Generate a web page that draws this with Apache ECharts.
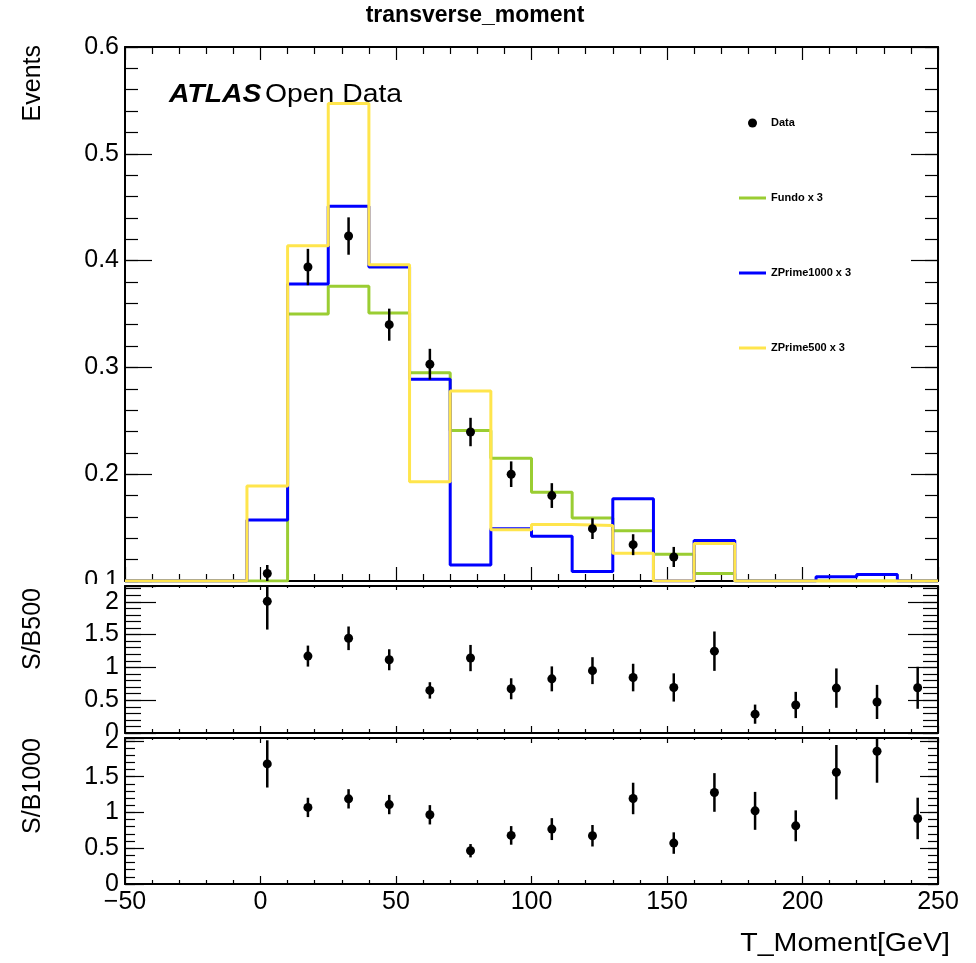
<!DOCTYPE html>
<html>
<head>
<meta charset="utf-8">
<title>transverse_moment</title>
<script src="https://cdn.jsdelivr.net/npm/echarts@6/dist/echarts.min.js"></script>
<style>
  html, body { margin: 0; padding: 0; background: #fff; }
  .pad { position: absolute; left: 0; width: 976px; overflow: hidden; background: #fff; }
</style>
</head>
<body>
<div id="padMain" class="pad" style="top:0;height:584px"></div>
<div id="padR500" class="pad" style="top:584px;height:152px"></div>
<div id="padR1000" class="pad" style="top:736px;height:227px"></div>
<script>
// ---- histogram binning (lower bin edges, GeV) ----
const binLow = [-50, -35, -20, -5, 10, 25, 40, 55, 70, 85, 100, 115, 130, 145, 160, 175, 190, 205, 220, 235];
const binWidth = 15;

// ---- scaled MC templates (events per bin) ----
const fundo      = [0, 0, 0, 0,     0.350, 0.376, 0.351, 0.295, 0.241, 0.215, 0.183, 0.159, 0.147, 0.125, 0.107, 0, 0, 0, 0, 0];
const zprime1000 = [0, 0, 0, 0.157, 0.378, 0.451, 0.394, 0.289, 0.115, 0.149, 0.142, 0.109, 0.177, 0,     0.138, 0, 0, 0.104, 0.106, 0];
const zprime500  = [0, 0, 0, 0.189, 0.414, 0.547, 0.396, 0.193, 0.278, 0.148, 0.153, 0.152, 0.126, 0,     0.135, 0, 0, 0, 0, 0];

// ---- data (null = below the displayed range) ----
const dataVals = [null, null, null, 0.107, 0.394, 0.423, 0.340, 0.303, 0.2395, 0.200, 0.180, 0.149, 0.134, 0.1225, null, null, null, null, null, null];
const dataErrs = [null, null, null, 0.008, 0.017, 0.0175, 0.015, 0.0144, 0.0133, 0.012, 0.0116, 0.0097, 0.0098, 0.0094, null, null, null, null, null, null];

// ---- ratio panels ----
const ratioX      = [2.5, 17.5, 32.5, 47.5, 62.5, 77.5, 92.5, 107.5, 122.5, 137.5, 152.5, 167.5, 182.5, 197.5, 212.5, 227.5, 242.5];
const sb500       = [2.006, 1.172, 1.443, 1.116, 0.649, 1.142, 0.674, 0.825, 0.950, 0.845, 0.694, 1.247, 0.287, 0.427, 0.684, 0.473, 0.689];
const sb500Err    = [0.43, 0.16, 0.18, 0.16, 0.125, 0.20, 0.16, 0.19, 0.205, 0.21, 0.215, 0.30, 0.146, 0.20, 0.30, 0.26, 0.32];
const sb1000      = [1.678, 1.070, 1.190, 1.110, 0.967, 0.465, 0.679, 0.767, 0.674, 1.195, 0.572, 1.279, 1.022, 0.813, 1.562, 1.855, 0.916];
const sb1000Err   = [0.33, 0.135, 0.135, 0.135, 0.135, 0.093, 0.13, 0.153, 0.15, 0.22, 0.15, 0.27, 0.265, 0.216, 0.38, 0.44, 0.29];

// ---- axis tick values ----
const xTicks = { min: -50, max: 250, step: 50 };
const mainY  = { min: 0.1, max: 0.6, step: 0.1, minorStep: 0.02 };
const r500Y  = { min: 0, max: 2.24, step: 0.5, minorStep: 0.1 };
const r1000Y = { min: 0, max: 2.04, step: 0.5, minorStep: 0.1 };

const FONT = "'Liberation Sans', Arial, Helvetica, sans-serif";
const BLACK = '#000';
const COLORS = { fundo: '#9acd32', z1000: '#0000ff', z500: '#ffe54c' };

// histogram outline: horizontal run over each bin, clamped to the frame bottom
function stepPoints(vals, yMin) {
  const pts = [];
  vals.forEach((v, i) => {
    const y = Math.max(v, yMin);
    pts.push([binLow[i], y], [binLow[i] + binWidth, y]);
  });
  return pts;
}

function xAxes(showLabels, t) {
  const common = {
    type: 'value', gridIndex: 0, min: xTicks.min, max: xTicks.max, interval: xTicks.step,
    splitLine: { show: false }, minorSplitLine: { show: false }
  };
  return [
    Object.assign({}, common, {
      position: 'bottom',
      axisLine: { show: true, onZero: false, lineStyle: { color: BLACK, width: 2 } },
      axisTick: { show: true, inside: true, length: t.bMaj, lineStyle: { color: BLACK, width: 1.2 } },
      minorTick: { show: true, splitNumber: 5, length: t.bMin, lineStyle: { color: BLACK, width: 1.2 } },
      axisLabel: {
        show: showLabels, margin: 6, fontSize: 25, fontFamily: FONT, color: BLACK,
        formatter: v => (v < 0 ? '\u2212' + Math.abs(v) : String(v))
      }
    }),
    Object.assign({}, common, {
      position: 'top',
      axisLine: { show: true, onZero: false, lineStyle: { color: BLACK, width: 2 } },
      axisTick: { show: true, inside: true, length: t.tMaj, lineStyle: { color: BLACK, width: 1.2 } },
      minorTick: { show: true, splitNumber: 5, length: t.tMin, lineStyle: { color: BLACK, width: 1.2 } },
      axisLabel: { show: false }
    })
  ];
}

// four overlaid y axes: left major (labelled), left minor, right major, right minor
function yAxes(r, t, labelSize, fmt) {
  const mk = (pos, interval, len, withLine, withLabel) => ({
    type: 'value', gridIndex: 0, position: pos, min: r.min, max: r.max, interval: interval,
    axisLine: { show: withLine, onZero: false, lineStyle: { color: BLACK, width: 2 } },
    axisTick: { show: true, inside: true, length: len, lineStyle: { color: BLACK, width: 1.2 } },
    axisLabel: withLabel
      ? { show: true, margin: 6, fontSize: labelSize, fontFamily: FONT, color: BLACK, formatter: fmt }
      : { show: false },
    splitLine: { show: false }
  });
  return [
    mk('left', r.step, t.lMaj, true, true),
    mk('left', r.minorStep, t.lMin, false, false),
    mk('right', r.step, t.rMaj, true, false),
    mk('right', r.minorStep, t.rMin, false, false)
  ];
}

function errorBars(xs, vs, es, r) {
  const d = [];
  xs.forEach((x, i) => { if (vs[i] != null) d.push([x, vs[i], es[i]]); });
  return {
    type: 'custom', xAxisIndex: 0, yAxisIndex: 0, data: d, encode: { x: 0, y: 1 }, z: 5, silent: true,
    renderItem: (params, api) => {
      const x = api.value(0), v = api.value(1), e = api.value(2);
      const lo = Math.max(v - e, r.min), hi = Math.min(v + e, r.max);
      const a = api.coord([x, lo]), b = api.coord([x, hi]);
      return { type: 'line', shape: { x1: a[0], y1: a[1], x2: b[0], y2: b[1] }, style: { stroke: BLACK, lineWidth: 2.5 } };
    }
  };
}

function markers(name, xs, vs, r) {
  const d = [];
  xs.forEach((x, i) => { if (vs[i] != null && vs[i] >= r.min) d.push([x, vs[i]]); });
  return {
    type: 'scatter', name: name, xAxisIndex: 0, yAxisIndex: 0, data: d,
    symbol: 'circle', symbolSize: 9, itemStyle: { color: BLACK, opacity: 1 }, z: 6, clip: true, silent: true
  };
}

function histLine(name, vals, color) {
  return {
    type: 'line', name: name, xAxisIndex: 0, yAxisIndex: 0,
    data: stepPoints(vals, mainY.min),
    symbol: 'none', showSymbol: false, clip: true, silent: true,
    lineStyle: { color: color, width: 3 }, itemStyle: { color: color }, z: 3
  };
}

const gridBase = { containLabel: false, outerBoundsMode: 'none', show: false };
const binCenters = binLow.map(l => l + binWidth / 2);
const fmtMain = v => v.toFixed(1);
const fmtRatio = v => {
  const k = v / 0.5;
  return Math.abs(k - Math.round(k)) < 1e-6 ? String(Math.round(k) * 0.5) : '';
};

// ---------------- main pad ----------------
const legendText = { fontSize: 11, fontWeight: 'bold', fontFamily: FONT, color: BLACK };
const legendEntries = [
  { name: 'Data', icon: 'circle', left: 748, w: 9, h: 9, pad: 9 },
  { name: 'Fundo x 3', icon: 'rect', left: 739, w: 27, h: 3, pad: 0 },
  { name: 'ZPrime1000 x 3', icon: 'rect', left: 739, w: 27, h: 3, pad: 0 },
  { name: 'ZPrime500 x 3', icon: 'rect', left: 739, w: 27, h: 3, pad: 0 }
];
const mainChart = echarts.init(document.getElementById('padMain'), null, { renderer: 'canvas' });
mainChart.setOption({
  animation: false,
  backgroundColor: '#fff',
  grid: Object.assign({ left: 125, top: 47, width: 813, height: 534 }, gridBase),
  xAxis: xAxes(false, { bMaj: 14, bMin: 7, tMaj: 13, tMin: 7 }),
  yAxis: yAxes(mainY, { lMaj: 27, lMin: 13, rMaj: 27, rMin: 13 }, 25, fmtMain),
  legend: legendEntries.map((e, i) => ({
    data: [{ name: e.name, icon: e.icon }], left: e.left, top: 122 + i * 75 - 4.5,
    orient: 'vertical', padding: 0, itemGap: 0,
    itemWidth: e.w, itemHeight: e.h, selectedMode: false,
    textStyle: Object.assign({ padding: [0, 0, 0, e.pad] }, legendText)
  })),
  graphic: [
    { type: 'text', x: 475, y: 16, style: { text: 'transverse_moment', fontSize: 23, fontWeight: 'bold', fontFamily: FONT, fill: BLACK, align: 'center', verticalAlign: 'middle' } },
    { type: 'text', x: 33, y: 45, rotation: Math.PI / 2, style: { text: 'Events', fontSize: 25, fontFamily: FONT, fill: BLACK, align: 'right', verticalAlign: 'middle' } },
    { type: 'text', x: 169, y: 95, scaleX: 1.09, style: {
        text: '{a|ATLAS} {b|Open Data}', fill: BLACK, verticalAlign: 'middle',
        rich: {
          a: { fontSize: 26, fontWeight: 'bold', fontStyle: 'italic', fontFamily: FONT, fill: BLACK },
          b: { fontSize: 26, fontFamily: FONT, fill: BLACK }
        } } }
  ],
  series: [
    histLine('Fundo x 3', fundo, COLORS.fundo),
    histLine('ZPrime1000 x 3', zprime1000, COLORS.z1000),
    histLine('ZPrime500 x 3', zprime500, COLORS.z500),
    errorBars(binCenters, dataVals, dataErrs, mainY),
    markers('Data', binCenters, dataVals, mainY)
  ]
});

// ---------------- S/B500 pad ----------------
const r500Chart = echarts.init(document.getElementById('padR500'), null, { renderer: 'canvas' });
r500Chart.setOption({
  animation: false,
  backgroundColor: '#fff',
  grid: Object.assign({ left: 125, top: 2, width: 813, height: 147 }, gridBase),
  xAxis: xAxes(false, { bMaj: 7, bMin: 4, tMaj: 4, tMin: 2 }),
  yAxis: yAxes(r500Y, { lMaj: 31, lMin: 16, rMaj: 30, rMin: 15 }, 25, fmtRatio),
  graphic: [
    { type: 'text', x: 33, y: 4, rotation: Math.PI / 2, style: { text: 'S/B500', fontSize: 25, fontFamily: FONT, fill: BLACK, align: 'right', verticalAlign: 'middle' } }
  ],
  series: [
    errorBars(ratioX, sb500, sb500Err, r500Y),
    markers('S/B500', ratioX, sb500, r500Y)
  ]
});

// ---------------- S/B1000 pad ----------------
const r1000Chart = echarts.init(document.getElementById('padR1000'), null, { renderer: 'canvas' });
r1000Chart.setOption({
  animation: false,
  backgroundColor: '#fff',
  grid: Object.assign({ left: 125, top: 2, width: 813, height: 146 }, gridBase),
  xAxis: xAxes(true, { bMaj: 8, bMin: 4, tMaj: 5, tMin: 2 }),
  yAxis: yAxes(r1000Y, { lMaj: 19, lMin: 10, rMaj: 18, rMin: 10 }, 25, fmtRatio),
  graphic: [
    { type: 'text', x: 33, y: 2, rotation: Math.PI / 2, style: { text: 'S/B1000', fontSize: 25, fontFamily: FONT, fill: BLACK, align: 'right', verticalAlign: 'middle' } },
    { type: 'text', x: 950, y: 208, scaleX: 1.1, style: { text: 'T_Moment[GeV]', fontSize: 26, fontFamily: FONT, fill: BLACK, align: 'right', verticalAlign: 'middle' } }
  ],
  series: [
    errorBars(ratioX, sb1000, sb1000Err, r1000Y),
    markers('S/B1000', ratioX, sb1000, r1000Y)
  ]
});
</script>
</body>
</html>
